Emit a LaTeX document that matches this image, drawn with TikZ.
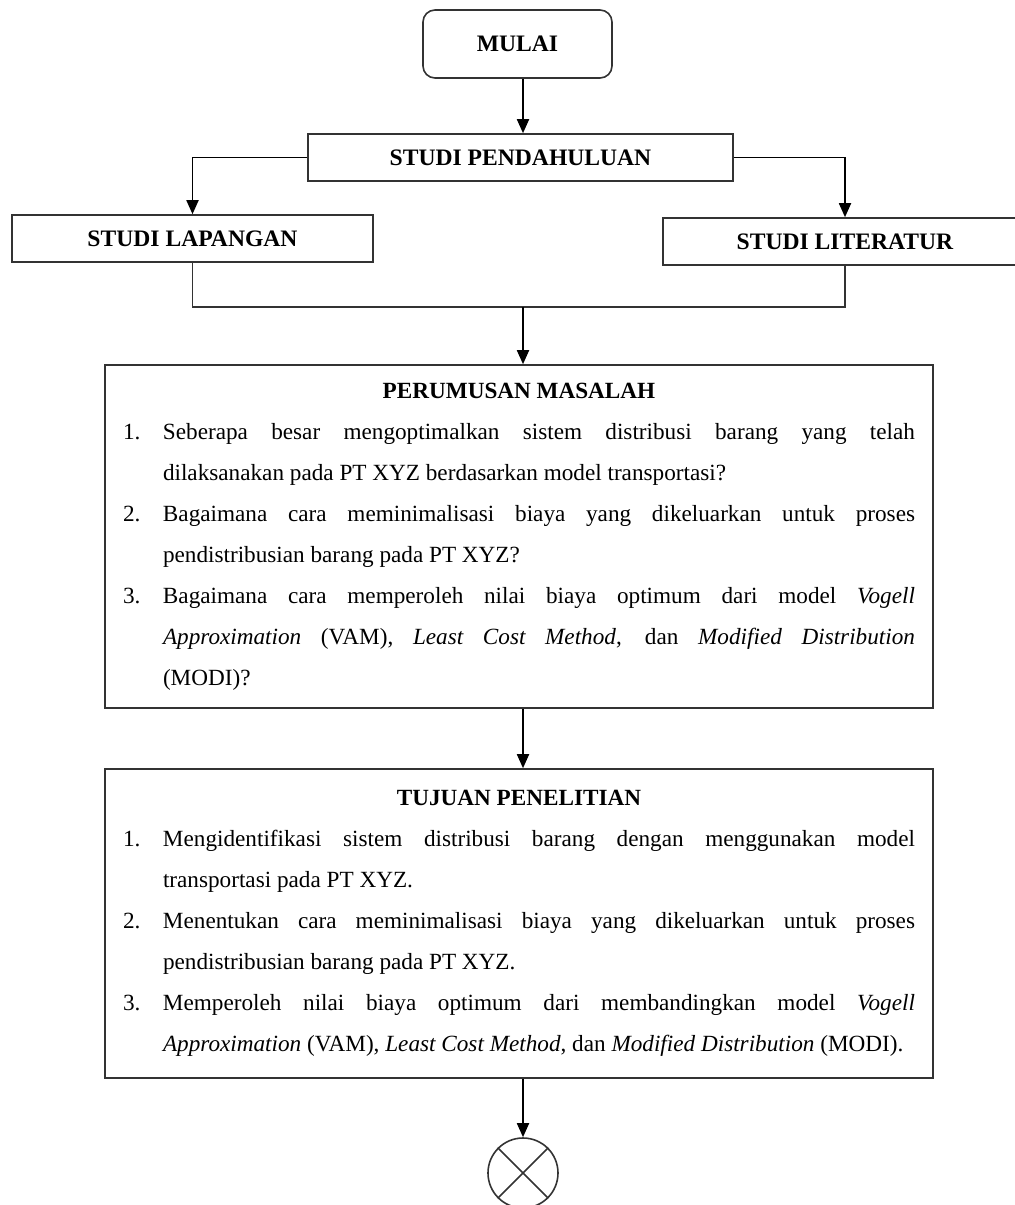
\documentclass[tikz,border=0pt]{standalone}
\usepackage{fontspec}
\setmainfont{Liberation Serif}
\usetikzlibrary{arrows.meta,calc}

\begin{document}
\begin{tikzpicture}[x=0.5pt,y=-0.5pt,
  box/.style={draw=black!80, line width=0.8pt, inner sep=0pt,
    font=\bfseries\fontsize{11.8}{14}\selectfont},
  textbox/.style={draw=black!80, line width=0.8pt, inner xsep=9pt, inner ysep=0pt,
    text width=396pt, minimum width=414pt, align=justify,
    font=\fontsize{11.6}{20.5}\selectfont},
  arr/.style={draw=black, line width=0.9pt, -{Triangle[width=6pt,length=7pt]}},
  link/.style={draw=black!80, line width=0.8pt}
]
\useasboundingbox (0,0) rectangle (1015,1205);
\clip (0,0) rectangle (1015,1205);

% start and study boxes
\node[box, rounded corners=6pt, minimum width=94.5pt, minimum height=34pt] (mulai) at (517.5,44) {MULAI};
\node[box, minimum width=212.5pt, minimum height=23.5pt] (pend) at (520.5,157.5) {STUDI PENDAHULUAN};
\node[box, minimum width=180.5pt, minimum height=23.5pt] (lap) at (192.5,238.5) {STUDI LAPANGAN};
\node[box, minimum width=182pt, minimum height=23.5pt] (lit) at (845,241.5) {STUDI LITERATUR};

% problem statement
\node[textbox, minimum height=171.5pt] (rumusan) at (519,536.5) {%
\parindent=0pt\leftskip=0pt\rightskip=0pt
{\centering\bfseries PERUMUSAN MASALAH\par}
\hangindent=20pt\hangafter=1\makebox[20pt][l]{1.}Seberapa besar mengoptimalkan sistem distribusi barang yang telah\linebreak dilaksanakan pada PT XYZ berdasarkan model transportasi?\par
\hangindent=20pt\hangafter=1\makebox[20pt][l]{2.}Bagaimana cara meminimalisasi biaya yang dikeluarkan untuk proses\linebreak pendistribusian barang pada PT XYZ?\par
\hangindent=20pt\hangafter=1\makebox[20pt][l]{3.}Bagaimana cara memperoleh nilai biaya optimum dari model \textit{Vogell}\linebreak \textit{Approximation} (VAM), \textit{Least Cost Method}, dan \textit{Modified Distribution}\linebreak (MODI)?\par
};

% research objectives
\node[textbox, minimum height=154.5pt] (tujuan) at (519,923.5) {%
\parindent=0pt\leftskip=0pt\rightskip=0pt
{\centering\bfseries TUJUAN PENELITIAN\par}
\hangindent=20pt\hangafter=1\makebox[20pt][l]{1.}Mengidentifikasi sistem distribusi barang dengan menggunakan model\linebreak transportasi pada PT XYZ.\par
\hangindent=20pt\hangafter=1\makebox[20pt][l]{2.}Menentukan cara meminimalisasi biaya yang dikeluarkan untuk proses\linebreak pendistribusian barang pada PT XYZ.\par
\hangindent=20pt\hangafter=1\makebox[20pt][l]{3.}Memperoleh nilai biaya optimum dari membandingkan model \textit{Vogell}\linebreak \textit{Approximation} (VAM), \textit{Least Cost Method}, dan \textit{Modified Distribution} (MODI).\par
};

% off-page connector
\node[draw=black!80, line width=0.8pt, circle, minimum size=35pt, inner sep=0pt] (fin) at (523,1173) {};
\draw[link] (fin.north west) -- (fin.south east);
\draw[link] (fin.north east) -- (fin.south west);

% connectors
\coordinate (ax) at (523,0);
\coordinate (merge) at (523,307);
\draw[arr] (mulai.south -| ax) -- (pend.north -| ax);
\draw[arr] (pend.west) -| (lap.north);
\draw[arr] (pend.east) -| (lit.north);
\draw[link] (lap.south) |- (merge) -| (lit.south);
\draw[arr] (merge) -- (rumusan.north -| merge);
\draw[arr] (rumusan.south -| ax) -- (tujuan.north -| ax);
\draw[arr] (tujuan.south -| ax) -- (fin.north);
\end{tikzpicture}
\end{document}
